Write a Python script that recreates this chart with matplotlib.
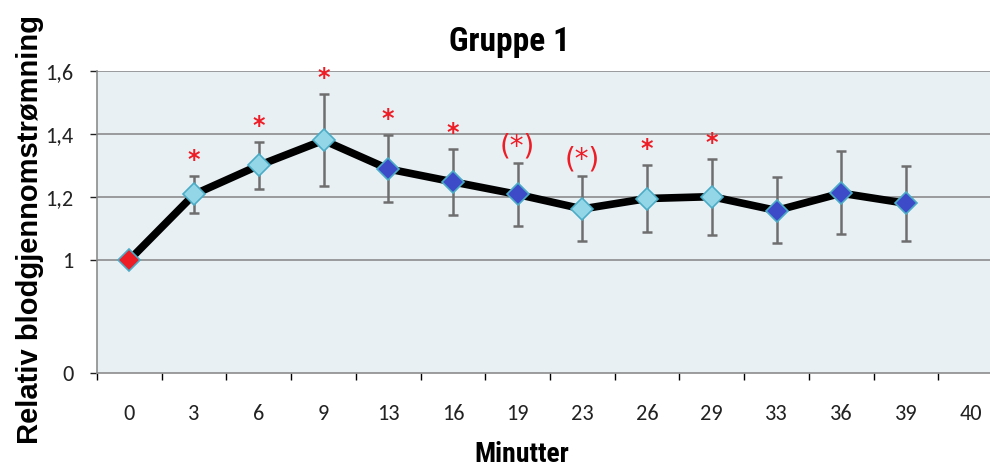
import matplotlib
matplotlib.use("Agg")
import matplotlib.pyplot as plt
import numpy as np

# ---- data ----
categories = ["0", "3", "6", "9", "13", "16", "19", "23", "26", "29", "33", "36", "39", "40"]
values = [1.0, 1.208, 1.30, 1.380, 1.289, 1.248, 1.208, 1.162, 1.195, 1.201, 1.157, 1.212, 1.180]
err_upper = [1.0, 1.268, 1.376, 1.528, 1.396, 1.352, 1.309, 1.267, 1.302, 1.322, 1.262, 1.345, 1.297]
err_lower = [1.0, 1.150, 1.226, 1.236, 1.185, 1.143, 1.108, 1.060, 1.088, 1.079, 1.055, 1.083, 1.059]
marker_kind = ["red", "light", "light", "light", "dark", "dark", "dark", "light", "light", "light", "dark", "dark", "dark"]
significance = ["", "*", "*", "*", "*", "*", "(*)", "(*)", "*", "*", "", "", ""]
ytick_vals = [0.641, 1.0, 1.2, 1.4, 1.6]
ytick_labels = ["0", "1", "1,2", "1,4", "1,6"]

colors = {"red": "#EE1C25", "light": "#93D6E8", "dark": "#3D4BC9"}
edge = "#4BACC6"
narrow = ["Liberation Sans Narrow", "Roboto Condensed", "IBM Plex Sans Condensed", "Liberation Sans"]
tickfont = ["Carlito", "Lato"]

fig = plt.figure(figsize=(9.9, 4.68), dpi=100)
ax = fig.add_axes([97/990, 1-373/468, 906/990, (373-71)/468])
ax.set_facecolor("#E8F0F4")

x = np.arange(len(values))
vals = np.array(values)
up = np.array(err_upper) - vals
lo = vals - np.array(err_lower)

ax.errorbar(x[1:], vals[1:], yerr=[lo[1:], up[1:]], fmt="none", ecolor="#6E6E6E",
            elinewidth=1.8, capsize=3.5, capthick=1.8, zorder=2)
ax.plot(x, vals, color="black", lw=5.5, zorder=3, solid_capstyle="round")
for xi, v, k in zip(x, vals, marker_kind):
    ax.plot(xi, v, marker="D", ms=11, mfc=colors[k], mec=edge, mew=1.2, zorder=4)

for xi, top, s in zip(x, err_upper, significance):
    if s:
        ax.annotate(s, (xi, top), xytext=(0, 11.5), textcoords="offset points",
                    ha="center", va="center", color="#EE1C25",
                    fontsize=20 if s == "(*)" else 17,
                    fontweight="normal" if s == "(*)" else "bold", family="DejaVu Sans")

ax.set_xlim(-0.5, len(categories) - 0.5)
ax.set_ylim(ytick_vals[0], 1.6)
ax.set_xticks(np.arange(len(categories) + 1) - 0.5, minor=True)
ax.set_xticks(np.arange(len(categories)))
ax.set_xticklabels(categories, fontsize=16, family=tickfont)
ax.tick_params(axis="x", which="major", length=0, pad=22, colors="#222222")
ax.tick_params(axis="x", which="minor", length=5, width=1)
ax.set_yticks(ytick_vals)
ax.set_yticklabels(ytick_labels, fontsize=16, family=tickfont)
ax.tick_params(axis="y", length=5, width=1, pad=12, colors="#222222")
for t in ax.get_yticklines() + ax.xaxis.get_minorticklines():
    t.set_color("#8C8C8C")

for g in ytick_vals[1:]:
    ax.axhline(g, color="#8C8C8C", lw=1.2, zorder=1)
for s in ["top", "right"]:
    ax.spines[s].set_visible(False)
for s in ["left", "bottom"]:
    ax.spines[s].set_color("#8C8C8C")
    ax.spines[s].set_linewidth(1.2)

fig.text(0.515, 1-42/468, "Gruppe 1", ha="center", va="center", fontsize=24,
         fontweight="bold", family=narrow)
fig.text(0.527, 1-455/468, "Minutter", ha="center", va="center", fontsize=20,
         fontweight="bold", family=narrow)
fig.text(30/990, 1-230/468, "Relativ blodgjennomstrømning", ha="center", va="center",
         rotation=90, fontsize=21, fontweight="bold", family="Liberation Sans")

fig.savefig("out.png", dpi=100)
